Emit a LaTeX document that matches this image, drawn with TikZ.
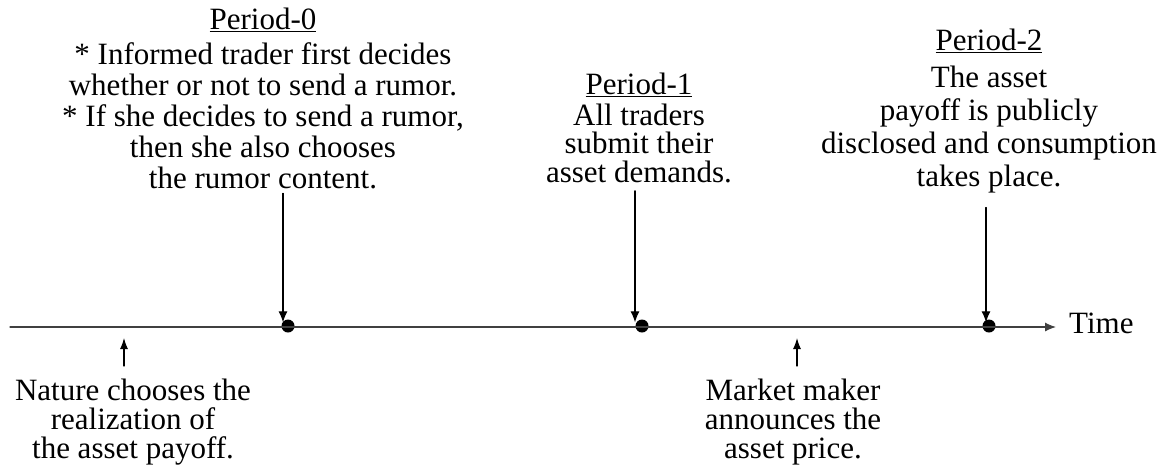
\documentclass[tikz,border=0pt]{standalone}
\usepackage{fontspec}
\setmainfont{Liberation Serif}
\usetikzlibrary{arrows.meta}

\begin{document}
\begin{tikzpicture}[line cap=round,line join=round,x=1pt,y=-1pt,
    every node/.style={font=\fontsize{31}{31}\selectfont,align=center,inner sep=0pt},
    event/.style={circle,fill=black,minimum size=13,inner sep=0pt},
    down/.style={-{Latex[length=11,width=9]},line width=1.1pt},
    up/.style={-{Latex[length=11,width=8]},line width=1.1pt}]
    \useasboundingbox (0,0) rectangle (1166,472);

    % the three periods on the time line
    \node[event] (d0) at (288,326) {};
    \node[event] (d1) at (642,326) {};
    \node[event] (d2) at (989,326) {};

    \node (time) [anchor=west] at (1069,323) {Time};
    \draw [line width=1.1pt,color=black!75,-{Latex[length=11,width=9]}] (10,327) -- ([xshift=-13]time.west |- 0,327);

    \node (p0) [anchor=north] at (263,8) {\underline{Period-0}\\[4pt]
      * Informed trader first decides\\
      whether or not to send a rumor.\\
      * If she decides to send a rumor,\\
      then she also chooses\\
      the rumor content.};
    \node (p1) [anchor=north,font=\fontsize{31}{28.5}\selectfont] at (639,73) {\underline{Period-1}\\[2pt]
      All traders\\
      submit their\\
      asset demands.};
    \node (p2) [anchor=north,font=\fontsize{31}{33}\selectfont] at (989,29) {\underline{Period-2}\\[4pt]
      The asset\\
      payoff is publicly\\
      disclosed and consumption\\
      takes place.};

    \draw [down] ([xshift=-5]d0.north |- p0.south) ++(0,4) -- ([xshift=-5,yshift=-3]d0.north);
    \draw [down] ([xshift=-7]d1.north |- p1.south) ++(0,8) -- ([xshift=-7,yshift=-3]d1.north);
    \draw [down] ([xshift=-3]d2.north |- p2.south) ++(0,14) -- ([xshift=-3,yshift=-3]d2.north);

    % what happens in between
    \coordinate (n) at (124,338);
    \coordinate (m) at (797,338);
    \node (nature) [anchor=north,font=\fontsize{31}{29}\selectfont] at (133,379) {Nature chooses the\\
      realization of\\
      the asset payoff.};
    \node (market) [anchor=north,font=\fontsize{31}{29}\selectfont] at (793,379) {Market maker\\
      announces the\\
      asset price.};
    \draw [up] (n |- nature.north) ++(0,-13) -- (n);
    \draw [up] (m |- market.north) ++(0,-13) -- (m);
  \end{tikzpicture}
\end{document}
